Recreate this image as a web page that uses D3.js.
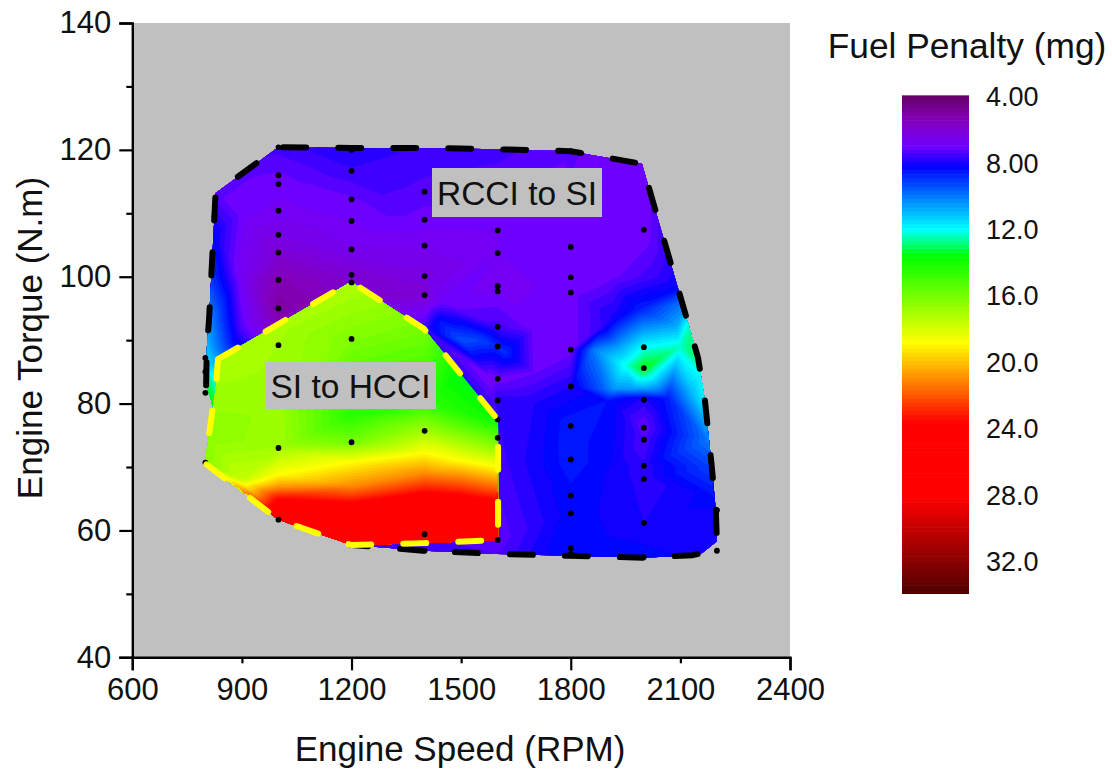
<!DOCTYPE html>
<html><head><meta charset="utf-8">
<script src="https://cdn.jsdelivr.net/npm/d3@7"></script>
<style>
html,body{margin:0;padding:0;background:#fff}
svg{display:block}
text{font-family:"Liberation Sans",Arial,sans-serif;fill:#111}
</style></head><body>
<svg id="chart" width="1112" height="770"></svg>
<script>
// ---------- axes ----------
const speedTicks  = [600,900,1200,1500,1800,2100,2400];
const torqueMajor = [40,60,80,100,120,140];
const torqueMinor = [50,70,90,110,130];
const legendTicks = [4,8,12,16,20,24,28,32];
const legendLabels= ["4.00","8.00","12.0","16.0","20.0","24.0","28.0","32.0"];
// ---------- colour map (value stops / colours) ----------
const colorStops = [3.9,5.4,7.0,8.2,12.0,13.6,18.8,23.6,28.05,33.9];
const colorHues  = ["#660066","#8400bb","#7000ff","#0000ff","#00ffff","#00ff00","#ffff00","#ff0000","#ff0000","#500000"];
// ---------- measured operating points, per speed ----------
const dotSpeeds = [800,825,1000,1200,1400,1600,1800,2000,2200];
const dots800  = [87.2,85,81.7,70.7];
const dots825  = [109.5];
const dots1000 = [120.4,116,114.6,110.4,106.6,103.8,99.5,95,89.2,73,61.7];
const dots1200 = [120,116.7,112.2,108.8,104.3,100.3,99.1,90.2,73.9,57.7];
const dots1400 = [113.4,109,104.9,100.1,97.1,91.7,75.7,59.4,56.8];
const dots1600 = [107.3,103.7,98.5,97.7,92.1,89,83.9,80.5,77.5,74.6,58.5];
const dots1800 = [119.8,104.7,99.9,97.5,88.5,82.7,76.5,71.2,65.5,62.7,57.2,56.3];
const dots2000 = [107.4,88.9,85.6,80.6,76.2,74.3,70.2,68.1,61.2,55.8];
const dots2200 = [63.2,56.8];
const dotTorques = [dots800,dots825,dots1000,dots1200,dots1400,dots1600,dots1800,dots2000,dots2200];
// ---------- fuel penalty samples [speed, torque, mg] ----------
const fieldRCCI = [
 [802,82.9,13.2],[800,85,12],[804,88.9,11],[810,93.2,10.3],[818,99.5,9],[822,107,8.2],[828,113.2,7.2],[821,79.5,13.8],[800,70,15],
 [880,90,8.2],[896,92,7.4],[900,100,6.7],[900,110,7],[900,116,7.2],
 [1000,120.4,7.5],[1000,116,7.1],[1000,114.6,7],[1000,110.4,6.8],[1000,106.6,6.4],[1000,103.8,6],[1000,99.5,5.3],[1000,95,5],[1000,92,5.5],
 [1200,120.3,8],[1200,116.7,7.6],[1200,112.2,7.1],[1200,108.8,6.9],[1200,104.3,6.6],[1200,100.3,6],[1200,97,5.8],
 [1325,111,7.3],[1400,120.3,7.6],[1400,113.4,7.3],[1400,109,7],[1400,104.9,6.7],[1400,100.1,6.3],[1400,97.1,5.9],[1400,91.7,7.7],
 [1440,93,8.4],[1500,90,9.4],[1550,90,9.2],[1620,88,8.8],[1450,96,7],
 [1600,120.1,7.5],[1600,107.3,6.9],[1600,103.7,6.9],[1600,98.5,6.8],[1600,92.1,7.5],[1600,89,8.8],[1580,84,6.8],[1600,83.9,7],[1600,80.5,7.8],[1600,77.5,7.8],[1600,74.6,7.6],[1600,58.5,7.2],[1600,56.3,7.4],[1400,56.8,7.6],
 [1700,110,6.9],[1700,92,7],[1700,85,7.1],[1700,80,7.9],[1700,70,8],[1700,56,8],[1750,84,7.5],
 [1800,119.8,7.2],[1800,104.7,7],[1800,99.9,7],[1800,97.5,7],[1800,88.5,7],[1800,82.7,7.9],[1800,76.5,8.6],[1800,71.2,8.6],[1800,65.5,8.3],[1800,62.7,8.3],[1800,57.2,8.4],[1800,56,8.4],
 [1863,88.5,10],[1880,92,7.6],[1920,93.6,8],[1934,89,10.6],[1888,82.2,9.6],[1920,82.3,10.4],[1970,82.3,10.5],[1900,80.5,8.4],[1950,80.8,8.2],[1900,100,7],[1900,118.8,7],[1920,70,8.1],
 [1950,86,12.2],[2000,117.8,6.9],[2000,107.4,6.9],[1990,95,8.6],[2000,88.9,12],[2000,85.6,13.6],[2000,82.5,10.8],[2000,80.6,7.8],[2000,76.2,7.1],[2000,74.3,7.4],[2000,70.2,7.7],[2000,68.1,7.7],[2000,61.2,7.9],[2000,55.7,8.3],
 [2030,100,7.6],[2065,81,8.6],[2100,98.4,8.2],[2090,92,10.8],[2110,95.8,10],[2100,89,12.4],[2130,82,11],
 [2148,87.3,13.2],[2125,92,12.6],[2155,84.5,12],[2167,80.6,11.8],[2175,74.3,10],[2186,70,9.2],[2190,65,8.3],[2197,63.2,8.1],[2200,58.3,8],[2159,56.4,8],[2134,56.1,8.1]
];
const fieldHCCI = [
 [799,70.6,16.4],[810,75,16.4],[829,82.9,16.9],[834,87,17],[900,68,17.6],[900,90,17],
 [1000,61.7,26],[1000,65,23.6],[1000,66.9,20.8],[1000,68.8,18.8],[1000,73,16.9],[1000,80,16.8],[1000,89.2,16.9],[1000,92,17],
 [1200,57.7,27],[1200,62,25],[1200,64.4,23.6],[1200,67,21],[1200,70.8,18.8],[1200,73.9,16],[1200,78,14.4],[1200,90.2,16.2],[1200,99.2,17.2],
 [1400,58,27],[1400,63,26],[1400,66,23.6],[1400,69,21],[1400,72.2,18.8],[1400,75.7,16.9],[1400,80,14.6],[1400,85,15],[1400,91.8,16],
 [1500,84.5,13.4],[1500,64.5,24.6],[1500,71,18.8],
 [1600,58.5,26],[1600,64.8,23.6],[1600,67.5,21],[1600,70,18.8],[1600,74.6,15.5],[1600,77.4,13.8]
];
// ---------- region outlines [speed, torque] ----------
const outlineRCCI = [[802,82.9],[804,88.9],[810,93.2],[828,113.2],[999,120.4],[1199,120.3],[1400,120.3],[1598,120.1],[1798,119.8],[1995,117.8],[2148,87.3],[2167,80.6],[2186,70],[2197,63.2],[2200,58.3],[2159,56.4],[2134,56.1],[2000,55.7],[1798,56],[1598,56.3],[1398,56.8],[1199,57.7]];
const closeRCCI   = [[999,61.7],[799,70.6],[821,79.5]];
const outlineHCCI = [[834.5,87],[1199,99.2],[1398,91.8],[1601,77.4],[1601,58.5],[1398,58],[1199,57.7],[999,61.7],[799,70.6],[829,82.9],[834.5,87]];

const svg = d3.select("#chart");
const x = d3.scaleLinear([600,2400],[132.3,790]);
const y = d3.scaleLinear([40,140],[657.3,23]);
const legendY = d3.scaleLinear([4,32],[97,562]);
const color = d3.scaleLinear(colorStops,colorHues).clamp(true);
const bandStep = 0.25;
const bands = d3.range(colorStops[0],colorStops[colorStops.length-1],bandStep);
const bandColor = t => color(t+bandStep/2);

// plot background
svg.append("rect").attr("x",x(600)).attr("y",y(140)).attr("width",x(2400)-x(600)).attr("height",y(40)-y(140)).attr("fill","#c0c0c0");

const defs = svg.append("defs");
const line = d3.line().x(d=>x(d[0])).y(d=>y(d[1]));
defs.append("clipPath").attr("id","clipR").append("path").attr("d",line(outlineRCCI.concat(closeRCCI))+"Z");
defs.append("clipPath").attr("id","clipH").append("path").attr("d",line(outlineHCCI)+"Z");

function drawField(samples,clip){
  const step=2, x0=x(600), y0=y(140);
  const nx=Math.ceil((x(2400)-x0)/step)+1, ny=Math.ceil((y(40)-y0)/step)+1;
  const pts=samples.map(d=>[x(d[0]),y(d[1])]);
  const del=d3.Delaunay.from(pts);
  const grid=new Float64Array(nx*ny).fill(NaN);
  const tr=del.triangles;
  for(let k=0;k<tr.length;k+=3){
    const [a,b,c]=[tr[k],tr[k+1],tr[k+2]];
    const [ax,ay]=pts[a],[bx,by]=pts[b],[cx,cy]=pts[c];
    const den=(by-cy)*(ax-cx)+(cx-bx)*(ay-cy);
    if(Math.abs(den)<1e-9) continue;
    const i0=Math.max(0,Math.floor((Math.min(ax,bx,cx)-x0)/step)), i1=Math.min(nx-1,Math.ceil((Math.max(ax,bx,cx)-x0)/step));
    const j0=Math.max(0,Math.floor((Math.min(ay,by,cy)-y0)/step)), j1=Math.min(ny-1,Math.ceil((Math.max(ay,by,cy)-y0)/step));
    for(let j=j0;j<=j1;j++)for(let i=i0;i<=i1;i++){
      const px=x0+i*step,py=y0+j*step;
      const l1=((by-cy)*(px-cx)+(cx-bx)*(py-cy))/den;
      const l2=((cy-ay)*(px-cx)+(ax-cx)*(py-cy))/den;
      const l3=1-l1-l2;
      if(l1>=-1e-6&&l2>=-1e-6&&l3>=-1e-6) grid[j*nx+i]=l1*samples[a][2]+l2*samples[b][2]+l3*samples[c][2];
    }
  }
  for(let j=0,h=0;j<ny;j++)for(let i=0;i<nx;i++){
    const g=j*nx+i;
    if(isNaN(grid[g])){h=del.find(x0+i*step,y0+j*step,h);grid[g]=samples[h][2];}
  }
  const lo=d3.min(grid),hi=d3.max(grid);
  const th=bands.filter(t=>t>=lo-bandStep&&t<=hi);
  const conts=d3.contours().size([nx,ny]).thresholds(th)(grid);
  const g=svg.append("g").attr("clip-path",`url(#${clip})`)
    .append("g").attr("transform",`translate(${x0-step/2},${y0-step/2}) scale(${step})`);
  const path=d3.geoPath();
  g.selectAll("path").data(conts).join("path").attr("d",path).attr("fill",d=>bandColor(d.value));
}
drawField(fieldRCCI,"clipR");
drawField(fieldHCCI,"clipH");

// measured points
const dotData = dotSpeeds.flatMap((s,i)=>dotTorques[i].map(t=>[s,t]));
svg.append("g").selectAll("circle").data(dotData).join("circle")
  .attr("cx",d=>x(d[0])).attr("cy",d=>y(d[1])).attr("r",2.9).attr("fill","#000");

// region outlines
svg.append("path").attr("d",line(outlineRCCI)).attr("fill","none").attr("stroke","#000")
  .attr("stroke-width",6).attr("stroke-linecap","round").attr("stroke-linejoin","round").attr("stroke-dasharray","23,32");
svg.append("path").attr("d",line(outlineHCCI)).attr("fill","none").attr("stroke","#ffff00")
  .attr("stroke-width",6).attr("stroke-linecap","round").attr("stroke-linejoin","round").attr("stroke-dasharray","23,32");

// region labels
function boxLabel(txt,x1,y1,x2,y2){
  svg.append("rect").attr("x",x1).attr("y",y1).attr("width",x2-x1).attr("height",y2-y1).attr("fill","#c0c0c0");
  svg.append("text").attr("x",(x1+x2)/2).attr("y",(y1+y2)/2+12).attr("text-anchor","middle").attr("font-size",33.5).text(txt);
}
boxLabel("RCCI to SI",432,168,602,217);
boxLabel("SI to HCCI",265,362,436,409);

// axes
const axB=svg.append("g").attr("transform",`translate(0,${y(40)})`)
  .call(d3.axisBottom(x).tickValues(speedTicks).tickFormat(d3.format("d")).tickSize(13).tickPadding(8));
axB.selectAll(".tick line").attr("y2",(d,i)=>i%2?6:13);
const axL=svg.append("g").attr("transform",`translate(${x(600)},0)`)
  .call(d3.axisLeft(y).tickValues(torqueMajor).tickFormat(d3.format("d")).tickSize(13).tickPadding(8));
svg.append("g").attr("transform",`translate(${x(600)},0)`)
  .call(d3.axisLeft(y).tickValues(torqueMinor).tickFormat("").tickSize(6)).select(".domain").remove();
svg.selectAll(".domain").attr("stroke","#000").attr("stroke-width",2.4);
svg.selectAll(".tick line").attr("stroke","#000").attr("stroke-width",2.2);
svg.selectAll(".tick text").attr("font-size",31).attr("font-family",'"Liberation Sans",Arial,sans-serif').attr("fill","#111");

// axis titles
svg.append("text").attr("x",460).attr("y",761).attr("text-anchor","middle").attr("font-size",35).text("Engine Speed (RPM)");
svg.append("text").attr("transform","translate(42,338) rotate(-90)").attr("text-anchor","middle").attr("font-size",35).text("Engine Torque (N.m)");
svg.append("text").attr("x",967).attr("y",58).attr("text-anchor","middle").attr("font-size",35.3).text("Fuel Penalty (mg)");

// colour bar
const barTop=95, barBottom=594;
const legendBands=bands.filter(t=>legendY(t)<barBottom);
svg.append("g").selectAll("rect").data(legendBands).join("rect")
  .attr("x",902).attr("width",67)
  .attr("y",d=>Math.max(barTop,legendY(d)))
  .attr("height",d=>Math.min(barBottom,legendY(d+bandStep)+0.6)-Math.max(barTop,legendY(d)))
  .attr("fill",d=>bandColor(d));
const axC=svg.append("g").attr("transform","translate(969,0)")
  .call(d3.axisRight(legendY).tickValues(legendTicks).tickFormat((d,i)=>legendLabels[i]).tickSize(0).tickPadding(17));
axC.select(".domain").remove();
axC.selectAll("text").attr("font-size",27).attr("font-family",'"Liberation Sans",Arial,sans-serif').attr("fill","#111");
</script>
</body></html>
